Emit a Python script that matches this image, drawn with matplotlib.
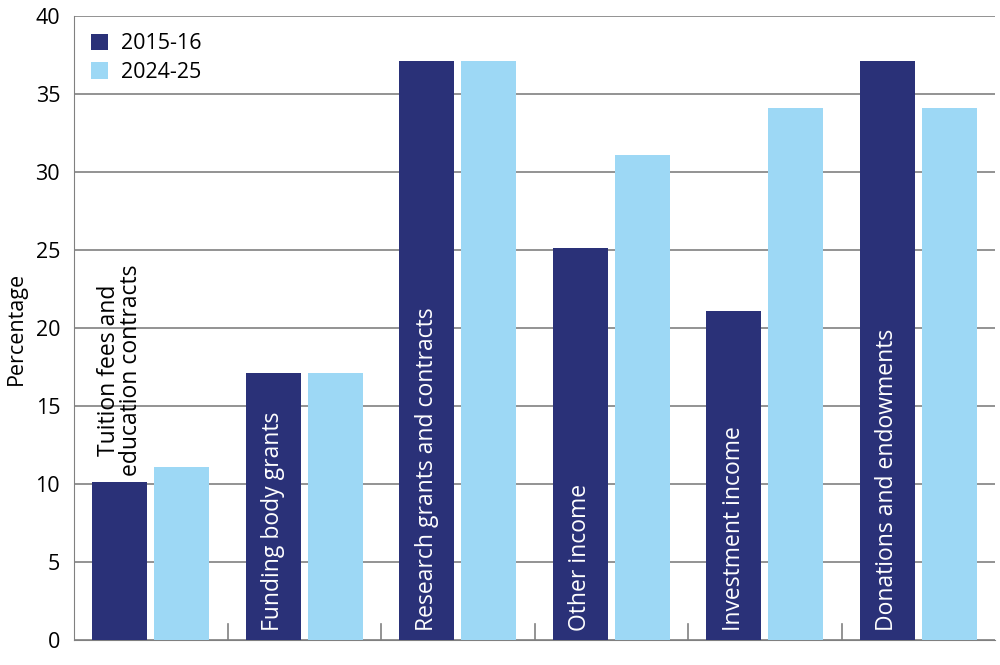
import numpy as np
import matplotlib.pyplot as plt

plt.rcParams['font.family'] = ['Open Sans', 'DejaVu Sans']

categories = ['Tuition fees and\neducation contracts', 'Funding body grants',
              'Research grants and contracts', 'Other income',
              'Investment income', 'Donations and endowments']
series_names = ['2015-16', '2024-25']
values_2015 = [10.1, 17.1, 37.1, 25.1, 21.1, 37.1]
values_2024 = [11.1, 17.1, 37.1, 31.1, 34.1, 34.1]

dark = '#2a3178'
light = '#9dd8f5'

fig = plt.figure(figsize=(10, 6.65), dpi=100)
ax = fig.add_axes([0.074, 25 / 665, 0.921, 624 / 665])

x = np.arange(len(categories))
w = 0.36
gap = 0.045
ax.bar(x - w / 2 - gap / 2, values_2015, w, color=dark, label=series_names[0], zorder=3)
ax.bar(x + w / 2 + gap / 2, values_2024, w, color=light, label=series_names[1], zorder=3)

for i, (cat, v) in enumerate(zip(categories, values_2015)):
    xc = i - w / 2 - gap / 2
    if v < 15:
        ax.text(xc, v + 0.4, cat, rotation=90, ha='center', va='bottom',
                fontsize=16.5, color='black', zorder=4, linespacing=0.9)
    else:
        ax.text(xc, 0.6, cat, rotation=90, ha='center', va='bottom',
                fontsize=16.5, color='white', zorder=4)

ax.set_xlim(-0.5, len(categories) - 0.5)
ax.set_ylim(0, 40)
ax.set_yticks(range(0, 41, 5))
ax.set_xticks([])
ax.grid(axis='y', color='#808080', linewidth=1.2, zorder=0)
for s in ['top', 'right']:
    ax.spines[s].set_visible(False)
ax.spines['left'].set_color('#808080')
ax.spines['bottom'].set_color('#808080')
ax.tick_params(axis='y', length=0, labelsize=15.5, pad=10)
for b in np.arange(0.5, len(categories) - 0.5, 1):
    ax.plot([b, b], [0, 1.0], color='#808080', linewidth=1.2, zorder=2)
ax.set_ylabel('Percentage', fontsize=15.5, labelpad=6)

ax.legend(loc='upper left', frameon=False, fontsize=15.5, handlelength=0.8,
          handleheight=0.8, handletextpad=0.6, borderaxespad=0.4,
          labelspacing=0.35, bbox_to_anchor=(0.0, 1.0))

fig.savefig('out.png')
